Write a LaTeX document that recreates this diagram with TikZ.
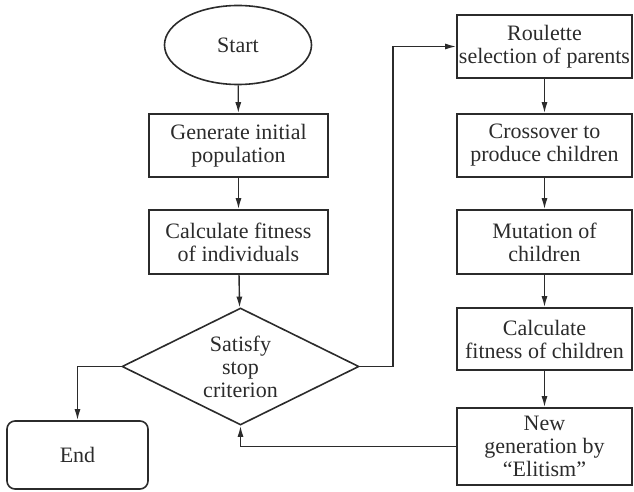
\documentclass[tikz,border=0pt]{standalone}
\usepackage{fontspec}
\setmainfont{Liberation Serif}
\usepackage{tikz}
\usetikzlibrary{shapes.geometric, arrows.meta, positioning, calc}
\definecolor{InkGray}{HTML}{2B2B2B}
\begin{document}
\begin{tikzpicture}[x=0.5pt, y=-0.5pt,
    every node/.style={text=InkGray, font=\fontsize{11}{11.5}\selectfont, align=center, inner sep=0pt},
    box/.style={draw=InkGray, line width=0.8pt, rectangle, minimum width=89.5pt, minimum height=31.5pt},
    rbox/.style={box, minimum width=87.5pt},
    flow/.style={draw=InkGray, line width=0.7pt, -{Latex[length=5.5pt, width=3pt]}}]
    \useasboundingbox (0,0) rectangle (634,492);

    % Left column
    \node[draw=InkGray, line width=0.8pt, ellipse, minimum width=73.5pt, minimum height=39.5pt] (start) at (238,45) {Start};
    \node[box] (gen) at (238.5,145.5) {Generate initial\\population};
    \node[box, minimum height=32pt] (fit) at (238.5,242) {Calculate fitness\\of individuals};
    \node[draw=InkGray, line width=0.8pt, diamond, shape aspect=2, minimum width=118.5pt, minimum height=58.5pt] (check) at (240.5,366.5) {Satisfy\\stop\\criterion};
    \node[draw=InkGray, line width=0.8pt, rounded corners=4pt, minimum width=70.5pt, minimum height=34pt] (finish) at (77.5,455) {End};

    % Right column
    \node[rbox] (roulette) at (544.5,46.5) {Roulette\\selection of parents};
    \node[rbox] (cross) at (544.5,145.5) {Crossover to\\produce children};
    \node[rbox, minimum height=32pt] (mutate) at (544.5,242) {Mutation of\\children};
    \node[rbox, minimum height=31pt] (fitkids) at (544.5,339) {Calculate\\fitness of children};
    \node[rbox, minimum height=38.5pt] (elite) at (544.5,446.5) {New\\generation by\\``Elitism''};

    \coordinate (loop) at (393,366.5);

    % Connectors
    \draw[flow] (start) -- (gen);
    \draw[flow] (gen) -- (fit);
    \draw[flow] (fit) -- (check);
    \draw[flow] (check.west) -| (finish.north);
    \draw[flow] (check.east) -- (loop) |- (roulette.west);
    \draw[flow] (roulette) -- (cross);
    \draw[flow] (cross) -- (mutate);
    \draw[flow] (mutate) -- (fitkids);
    \draw[flow] (fitkids) -- (elite);
    \draw[flow] (elite.west) -| (check.south);
\end{tikzpicture}
\end{document}
